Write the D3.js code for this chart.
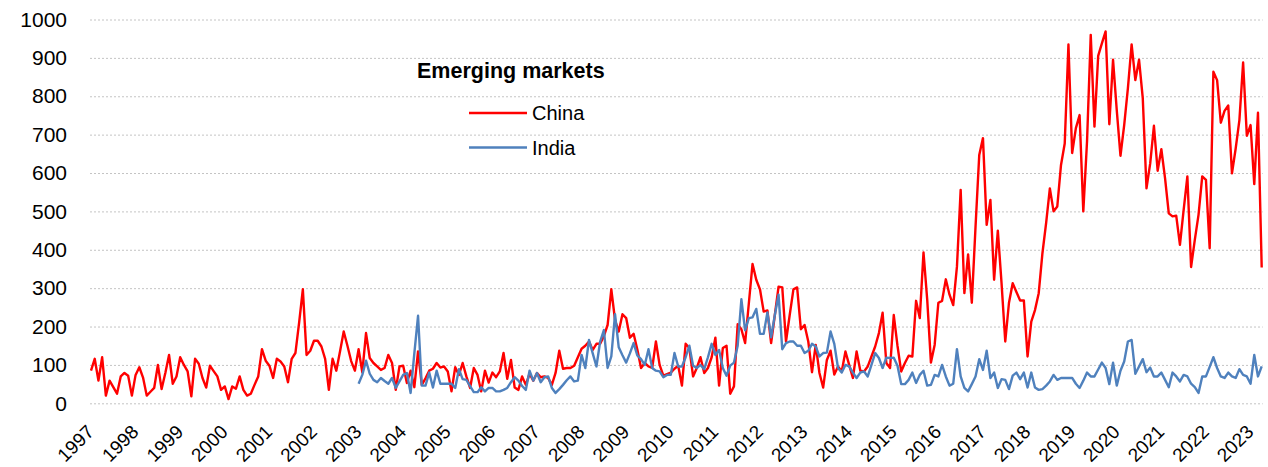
<!DOCTYPE html>
<html>
<head>
<meta charset="utf-8">
<script src="https://cdn.jsdelivr.net/npm/d3@7/dist/d3.min.js"></script>
<style>
  body { margin: 0; background: #fff; }
  svg { display: block; font-family: "Liberation Sans", Arial, sans-serif; }
  .grid line { stroke: #c4c4c4; stroke-width: 1; stroke-dasharray: 2,2; }
  .grid .domain, .x.axis .domain { display: none; }
  .grid .tick text { fill: #000; font-size: 21px; }
  .x.axis .tick text { fill: #000; font-size: 19px; }
  .line { fill: none; stroke-width: 2.4; stroke-linejoin: round; }
</style>
</head>
<body>
<div id="chartContainer"></div>
<script>
/* Emerging markets chart, monthly values Jan 1997 - Apr 2023 */

const yearLabels = ["1997", "1998", "1999", "2000", "2001", "2002", "2003", "2004", "2005",
  "2006", "2007", "2008", "2009", "2010", "2011", "2012", "2013", "2014", "2015", "2016",
  "2017", "2018", "2019", "2020", "2021", "2022", "2023"];

const yTicks = [0, 100, 200, 300, 400, 500, 600, 700, 800, 900, 1000];

const seriesNames = ["China", "India"];

// China starts Jan 1997, one value per month (12 per line)
const chinaValues = [
  85, 116, 59, 120, 20, 59, 42, 25, 70, 79, 72, 20,
  74, 94, 67, 20, 30, 40, 100, 37, 79, 126, 51, 70,
  120, 100, 83, 18, 116, 103, 66, 41, 98, 84, 70, 35,
  44, 11, 44, 38, 70, 35, 20, 25, 48, 70, 141, 111,
  98, 66, 116, 109, 96, 55, 116, 131, 210, 297, 126, 137,
  163, 163, 148, 116, 35, 116, 85, 135, 187, 150, 110, 85,
  141, 81, 183, 118, 105, 96, 87, 92, 126, 105, 35, 96,
  98, 53, 85, 42, 135, 48, 65, 85, 90, 105, 93, 96,
  83, 31, 94, 74, 105, 70, 40, 92, 74, 31, 85, 54,
  80, 68, 83, 131, 64, 113, 41, 35, 70, 48, 77, 59,
  79, 68, 70, 66, 48, 79, 137, 90, 92, 92, 98, 120,
  142, 150, 161, 139, 155, 155, 175, 204, 297, 217, 187, 232,
  222, 171, 181, 140, 92, 105, 96, 92, 161, 100, 72, 76,
  80, 90, 98, 46, 155, 144, 70, 92, 120, 79, 92, 120,
  171, 46, 144, 150, 25, 44, 206, 193, 157, 260, 363, 322,
  297, 239, 242, 157, 230, 304, 302, 161, 230, 297, 302, 193,
  204, 161, 81, 152, 79, 41, 113, 137, 75, 96, 83, 135,
  100, 66, 135, 85, 83, 96, 122, 148, 183, 236, 105, 92,
  230, 150, 83, 105, 124, 122, 267, 222, 393, 270, 106, 152,
  262, 267, 323, 283, 256, 356, 556, 287, 388, 262, 460, 647,
  691, 465, 530, 322, 450, 313, 161, 262, 313, 290, 268, 268,
  122, 213, 243, 287, 391, 470, 560, 500, 513, 621, 677, 935,
  652, 717, 751, 500, 682, 960, 721, 905, 938, 969, 727, 895,
  764, 645, 725, 821, 935, 842, 895, 795, 560, 625, 723, 606,
  662, 586, 495, 487, 489, 413, 504, 591, 355, 426, 491, 591,
  582, 404, 864, 842, 731, 762, 776, 599, 664, 738, 888, 697,
  725, 571, 757, 354
];

// India starts Jan 2003 (month 72 counted from Jan 1997)
const indiaStart = 72;
const indiaValues = [
  51, 74, 111, 77, 61, 55, 66, 58, 51, 66, 40, 57,
  74, 79, 27, 130, 228, 46, 46, 80, 41, 85, 51, 51,
  51, 51, 40, 89, 63, 61, 45, 29, 29, 42, 31, 40,
  40, 31, 31, 35, 40, 55, 68, 59, 45, 35, 85, 59,
  79, 55, 68, 70, 40, 27, 37, 48, 60, 70, 57, 59,
  126, 92, 165, 130, 96, 161, 191, 92, 122, 232, 146, 125,
  106, 130, 157, 125, 115, 100, 141, 92, 85, 83, 68, 74,
  74, 131, 96, 96, 120, 150, 98, 92, 100, 89, 120, 155,
  126, 139, 92, 72, 98, 106, 150, 271, 190, 222, 224, 246,
  181, 181, 237, 172, 230, 283, 141, 157, 161, 161, 150, 150,
  131, 137, 155, 148, 122, 131, 132, 187, 155, 92, 80, 100,
  96, 80, 66, 80, 83, 70, 100, 131, 118, 92, 119, 118,
  119, 98, 50, 50, 61, 80, 53, 74, 85, 46, 48, 74,
  70, 100, 70, 46, 51, 141, 70, 40, 31, 50, 70, 115,
  87, 137, 66, 80, 40, 63, 61, 37, 72, 80, 63, 80,
  41, 80, 41, 35, 37, 46, 57, 74, 61, 66, 66, 66,
  66, 51, 40, 59, 80, 70, 70, 88, 106, 92, 50, 106,
  46, 85, 109, 161, 165, 77, 96, 115, 81, 93, 70, 70,
  80, 61, 42, 80, 70, 57, 74, 70, 51, 42, 27, 70,
  70, 95, 120, 92, 70, 66, 80, 70, 66, 89, 74, 70,
  51, 126, 70, 96
];

(() => {
  'use strict';

  const size = { width: 1268, height: 467 };
  const margin = { top: 19.5, right: 6.3, bottom: 63.7, left: 91 };
  const width = size.width - margin.left - margin.right;
  const height = size.height - margin.top - margin.bottom;

  const colors = { China: "#ff0000", India: "#4f81bd" };

  const chinaData = chinaValues.map((v, i) => ({ x: i, y: v }));
  const indiaData = indiaValues.map((v, i) => ({ x: indiaStart + i, y: v }));

  const xScale = d3.scaleLinear()
    .domain([0, chinaValues.length - 1])
    .range([0, width]);

  const yScale = d3.scaleLinear()
    .domain([0, 1000])
    .range([height, 0]);

  const svg = d3.select("#chartContainer")
    .append("svg")
    .attr("width", size.width)
    .attr("height", size.height);

  const graph = svg.append("g")
    .attr("transform", "translate(" + margin.left + "," + margin.top + ")");

  // dotted horizontal gridlines with the value labels
  const yAxis = d3.axisLeft(yScale)
    .tickValues(yTicks)
    .tickFormat(d3.format("d"))
    .tickSize(-(width + 2))
    .tickPadding(24);

  graph.append("g")
    .attr("class", "grid")
    .attr("transform", "translate(-1,0)")
    .call(yAxis)
    .selectAll(".tick text")
    .attr("x", -23);

  // year labels, rotated
  const xAxis = d3.axisBottom(xScale)
    .tickValues(yearLabels.map((d, i) => i * 12))
    .tickSize(0)
    .tickFormat((d, i) => yearLabels[i]);

  graph.append("g")
    .attr("class", "x axis")
    .attr("transform", "translate(0," + height + ")")
    .call(xAxis)
    .selectAll("text")
    .attr("x", 0)
    .attr("y", 0)
    .attr("dy", "0.35em")
    .attr("text-anchor", "end")
    .attr("transform", "translate(-1,25) rotate(-45)");

  const line = d3.line()
    .x(d => xScale(d.x))
    .y(d => yScale(d.y));

  graph.append("path")
    .datum(chinaData)
    .attr("class", "line")
    .style("stroke", colors.China)
    .attr("d", line);

  graph.append("path")
    .datum(indiaData)
    .attr("class", "line")
    .style("stroke", colors.India)
    .attr("d", line);

  // legend
  const legend = svg.append("g")
    .attr("class", "legend");

  legend.append("text")
    .attr("x", 417)
    .attr("y", 78)
    .style("font-size", "21.5px")
    .style("font-weight", "bold")
    .text("Emerging markets");

  seriesNames.forEach((name, i) => {
    const ly = 113 + i * 34.5;
    legend.append("line")
      .attr("x1", 469)
      .attr("x2", 527)
      .attr("y1", ly)
      .attr("y2", ly)
      .style("stroke", colors[name])
      .style("stroke-width", 2.4);
    legend.append("text")
      .attr("x", 532)
      .attr("y", ly)
      .attr("dy", "0.36em")
      .style("font-size", "20px")
      .text(name);
  });
})();
</script>
</body>
</html>
